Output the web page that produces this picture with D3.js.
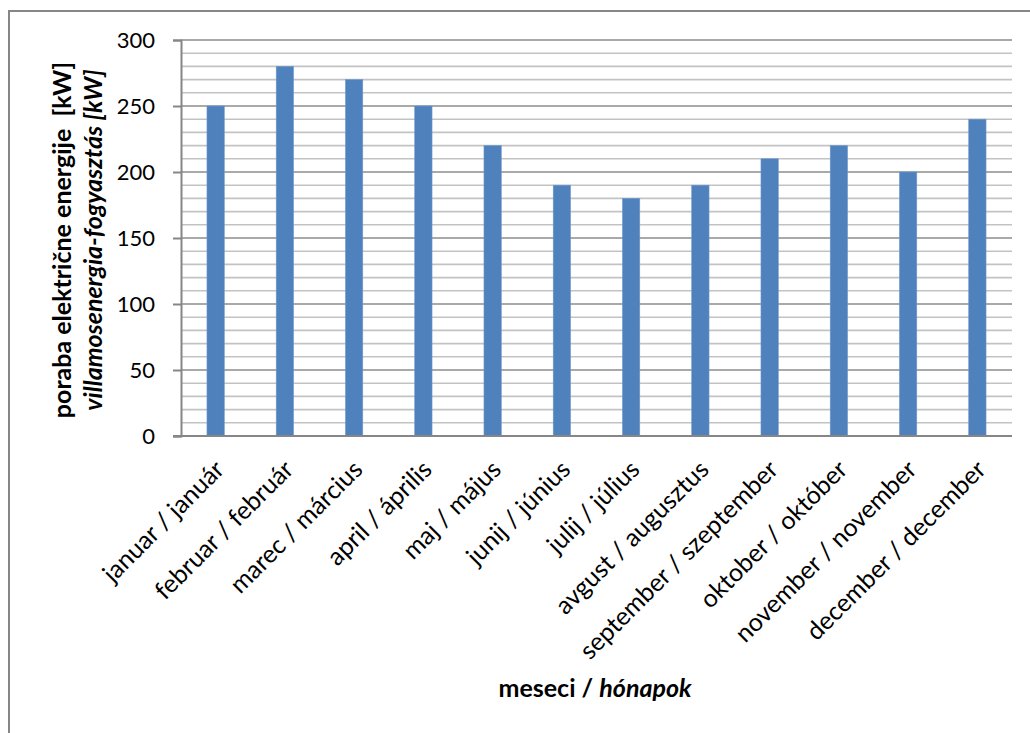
<!DOCTYPE html>
<html>
<head>
<meta charset="utf-8">
<script src="https://cdn.jsdelivr.net/npm/d3@7"></script>
<style>
  html, body { margin: 0; padding: 0; background: #fff; }
  svg { display: block; }
  text { font-family: Lato, "Open Sans", sans-serif; fill: #000; }
</style>
</head>
<body>
<svg id="chart" width="1030" height="733"></svg>
<script>
// Monthly electricity consumption (kW)
const months = [
  "januar / január", "februar / február", "marec / március", "april / április",
  "maj / május", "junij / június", "julij / július", "avgust / augusztus",
  "september / szeptember", "oktober / október", "november / november", "december / december"
];
const consumption = [250, 280, 270, 250, 220, 190, 180, 190, 210, 220, 200, 240];
const majorTicks = [0, 50, 100, 150, 200, 250, 300];
const minorTicks = d3.range(0, 301, 10);

const svg = d3.select("#chart");
const plot = { left: 181, right: 1012, top: 40, bottom: 436 };

// outer chart frame
svg.append("rect")
  .attr("x", 9).attr("y", 11)
  .attr("width", 1100).attr("height", 800)
  .attr("fill", "none").attr("stroke", "#868686").attr("stroke-width", 2);

const x = d3.scaleBand().domain(months).range([plot.left, plot.right]).paddingInner(0.75).paddingOuter(0.375);
const y = d3.scaleLinear().domain([0, 300]).range([plot.bottom, plot.top]);

// gridlines: light every 10, darker every 50
svg.append("g").selectAll("line")
  .data(minorTicks.filter(v => v % 50 !== 0))
  .join("line")
  .attr("x1", plot.left).attr("x2", plot.right)
  .attr("y1", d => y(d)).attr("y2", d => y(d))
  .attr("stroke", "#c3c3c3").attr("stroke-width", 1.6);

svg.append("g").selectAll("line")
  .data(majorTicks.filter(v => v > 0))
  .join("line")
  .attr("x1", plot.left).attr("x2", plot.right)
  .attr("y1", d => y(d)).attr("y2", d => y(d))
  .attr("stroke", "#8c8c8c").attr("stroke-width", 1.6);

// bars
svg.append("g").selectAll("rect")
  .data(consumption)
  .join("rect")
  .attr("x", (d, i) => x(months[i]))
  .attr("width", x.bandwidth())
  .attr("y", d => y(d))
  .attr("height", d => y(0) - y(d))
  .attr("fill", "#4f81bd")
  .attr("stroke", "#6f98cb").attr("stroke-width", 0.6);

// value axis
const yAxis = d3.axisLeft(y).tickValues(majorTicks).tickSize(8).tickPadding(18).tickFormat(d3.format("d"));
const gy = svg.append("g").attr("transform", `translate(${plot.left},0)`).call(yAxis);
gy.select(".domain").attr("stroke", "#868686").attr("stroke-width", 2);
gy.selectAll(".tick line").attr("stroke", "#868686").attr("stroke-width", 2);
gy.selectAll(".tick text").style("font-size", "22px").attr("fill", "#000");

// category axis line
svg.append("line")
  .attr("x1", plot.left - 8).attr("x2", plot.right)
  .attr("y1", plot.bottom).attr("y2", plot.bottom)
  .attr("stroke", "#868686").attr("stroke-width", 2);

// rotated category labels
svg.append("g").selectAll("text")
  .data(months)
  .join("text")
  .attr("transform", d => `translate(${x(d) + x.bandwidth() / 2 + 10},471) rotate(-45)`)
  .attr("text-anchor", "end")
  .style("font-size", "25px")
  .text(d => d);

// axis titles
const yt = svg.append("text")
  .attr("transform", "translate(0,240) rotate(-90)")
  .attr("text-anchor", "middle")
  .style("font-size", "25px").style("font-weight", "bold");
yt.append("tspan").attr("x", 0).attr("y", 71).attr("xml:space", "preserve").text("poraba električne energije  [kW]");
yt.append("tspan").attr("x", 0).attr("y", 102).style("font-style", "italic").text("villamosenergia-fogyasztás [kW]");

const xt = svg.append("text")
  .attr("x", 595).attr("y", 697)
  .attr("text-anchor", "middle")
  .style("font-size", "25px").style("font-weight", "bold");
xt.append("tspan").text("meseci / ");
xt.append("tspan").style("font-style", "italic").text("hónapok");
</script>
</body>
</html>
